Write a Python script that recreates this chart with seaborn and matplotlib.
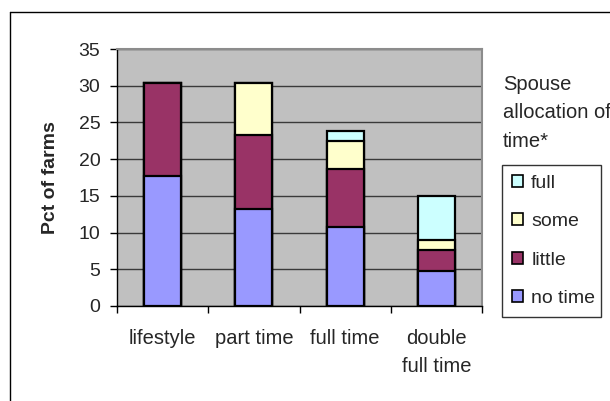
import numpy as np
import pandas as pd
import matplotlib
matplotlib.use("Agg")
import matplotlib.pyplot as plt
from matplotlib.patches import Patch
from matplotlib.lines import Line2D
from matplotlib.ticker import MultipleLocator, FixedLocator
import seaborn as sns

# Farm type categories and spouse time allocation (percent of farms)
categories = ["lifestyle", "part time", "full time", "double\nfull time"]
no_time = [17.7, 13.2, 10.8, 4.7]
little = [12.7, 10.1, 7.9, 2.9]
some = [0.0, 7.1, 3.8, 1.4]
full = [0.0, 0.0, 1.3, 6.0]

series_names = ["no time", "little", "some", "full"]
series_values = [no_time, little, some, full]
series_colors = ["#9999FF", "#993366", "#FFFFCC", "#CCFFFF"]

sns.set_theme(style="white")
plt.rcParams["font.family"] = ["Liberation Sans", "DejaVu Sans"]

fig = plt.figure(figsize=(6.10, 4.01), dpi=100)
W, H = 610, 401
ax = fig.add_axes([117 / W, 1 - 306 / H, (482 - 117) / W, (306 - 49) / H])
ax.set_facecolor("#C0C0C0")

# cumulative heights, drawn from the top layer down so each segment shows
cum = np.cumsum(np.array(series_values), axis=0)
for i in range(len(series_names) - 1, -1, -1):
    df = pd.DataFrame({"farm": categories, "pct": cum[i]})
    sns.barplot(data=df, x="farm", y="pct", order=categories, color=series_colors[i],
                saturation=1, width=0.405, edgecolor="black", linewidth=1.6,
                ax=ax, zorder=3)

ax.set_ylim(0, 35)
ax.set_xlim(-0.5, 3.5)
ax.yaxis.set_major_locator(MultipleLocator(5))
ax.grid(axis="y", color="#3a3a3a", linewidth=1.0, zorder=0)
ax.set_axisbelow(True)

ax.set_xlabel("")
ax.set_ylabel("Pct of farms", fontsize=14, fontweight="bold", labelpad=14)

# category boundaries carry the tick marks, labels sit at the centers
ax.xaxis.set_major_locator(FixedLocator(range(len(categories))))
ax.set_xticklabels(categories, fontsize=14.5)
for t in ax.get_xticklabels():
    t.set_linespacing(1.62)
ax.xaxis.set_minor_locator(FixedLocator([-0.5, 0.5, 1.5, 2.5, 3.5]))
ax.tick_params(axis="x", which="major", length=0, pad=16.5)
ax.tick_params(axis="x", which="minor", length=5, width=1, color="black",
               direction="out", bottom=True)
ax.tick_params(axis="y", which="major", length=5, width=1, color="black",
               direction="out", left=True, labelsize=14, pad=7)

for side in ["top", "right"]:
    ax.spines[side].set_color("#8c8c8c")
    ax.spines[side].set_linewidth(1.5)
for side in ["left", "bottom"]:
    ax.spines[side].set_color("black")
    ax.spines[side].set_linewidth(1.0)

# legend title lines
fig.text(503 / W, 1 - 75 / H, "Spouse\nallocation of\ntime*", fontsize=14.5,
         ha="left", va="top", linespacing=1.63,
         transform=fig.transFigure)

handles = [Patch(facecolor=series_colors[i], edgecolor="black", linewidth=1.2,
                 label=series_names[i]) for i in range(len(series_names) - 1, -1, -1)]
leg = fig.legend(handles=handles, loc="upper left",
                 bbox_to_anchor=(502 / W, 1 - 165 / H, (601 - 502) / W, 0.0),
                 mode="expand", fontsize=14, frameon=True, fancybox=False,
                 handlelength=0.6, handleheight=0.6, handletextpad=0.4,
                 labelspacing=1.1, borderpad=0.5, borderaxespad=0.0)
leg.get_frame().set_edgecolor("black")
leg.get_frame().set_linewidth(1.0)
leg.get_frame().set_facecolor("white")

# outer chart-area border
fig.add_artist(Line2D([9.5 / W, 9.5 / W], [0, 1 - 11.5 / H], color="black",
                      linewidth=1.0, transform=fig.transFigure))
fig.add_artist(Line2D([9.5 / W, 1], [1 - 11.5 / H, 1 - 11.5 / H], color="black",
                      linewidth=1.0, transform=fig.transFigure))

fig.savefig("out.png", dpi=100, facecolor="white")
